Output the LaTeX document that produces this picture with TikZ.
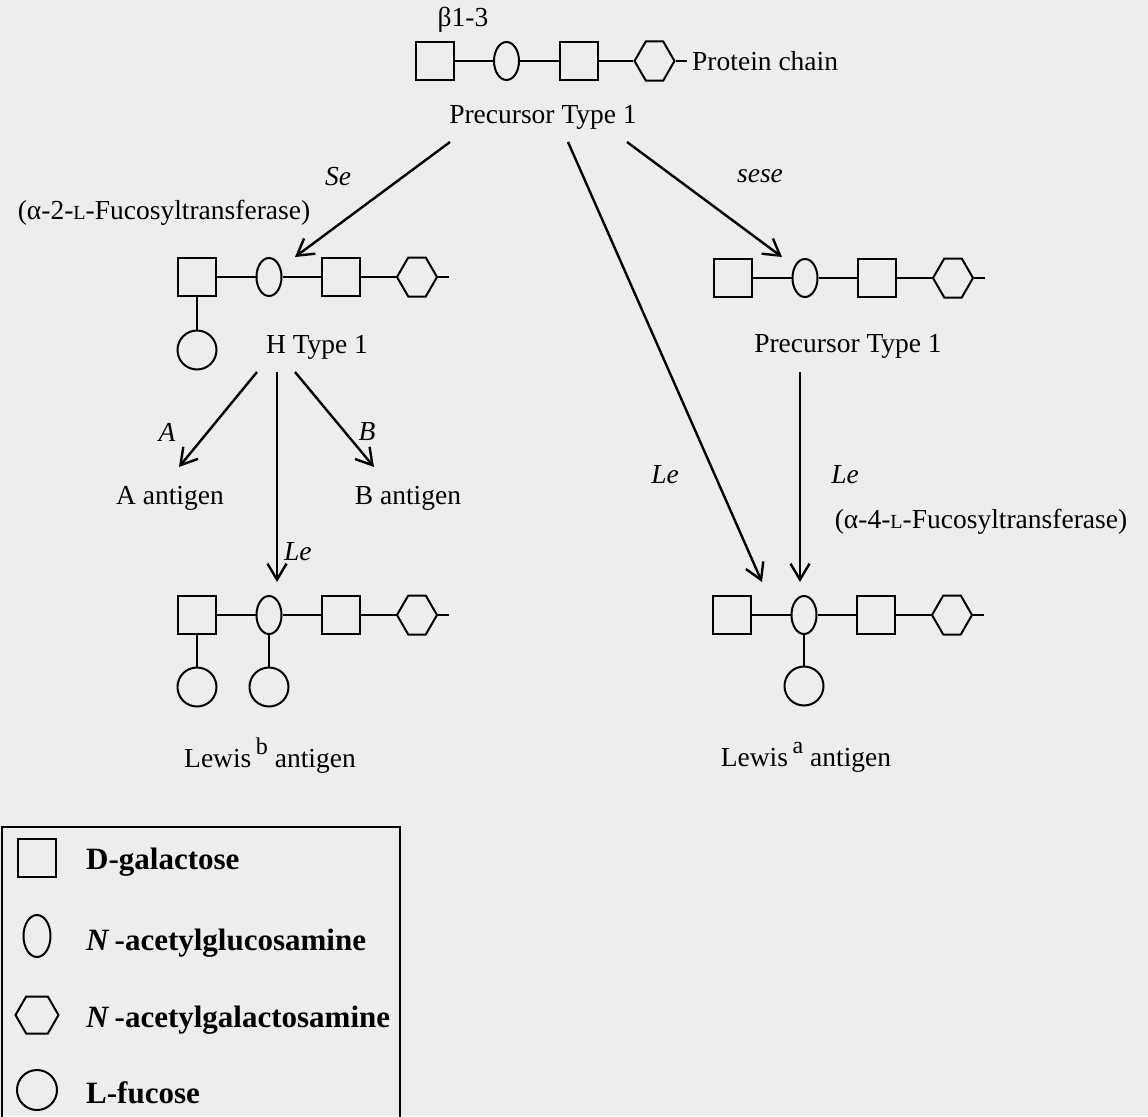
\documentclass[tikz,border=0pt]{standalone}
\usepackage{fontspec}
\setmainfont{Liberation Serif}
\usetikzlibrary{shapes.geometric,shapes.symbols,arrows.meta}
\definecolor{bg}{RGB}{237,237,237}
\tikzset{
 lw/.style={line width=2pt},
 gal/.style={draw, lw, rectangle, minimum width=38, minimum height=38, inner sep=0},
 glc/.style={draw, lw, ellipse, minimum width=25, minimum height=38, inner sep=0},
 galnac/.style={draw, lw, signal, signal to=east and west, signal pointer angle=120, minimum width=40, minimum height=39, inner sep=0},
 fuc/.style={draw, lw, circle, minimum size=39, inner sep=0},
 link/.style={lw},
 rx/.style={line width=2.4pt, -{Straight Barb[length=16pt,width=19pt,line width=2.4pt]}},
 txt/.style={font=\fontsize{27.5}{30}\selectfont, inner sep=0},
 itl/.style={font=\fontsize{27.5}{30}\selectfont\itshape, inner sep=0},
 leg/.style={font=\fontsize{31}{34}\selectfont\bfseries, inner sep=0, anchor=west},
}
\newcommand{\sugarchain}[3]{%
 \node[gal] (#1a) at (#2,#3) {};
 \node[glc] (#1b) at (#2+72,#3) {};
 \node[gal] (#1c) at (#2+144,#3) {};
 \node[galnac] (#1d) at (#2+220,#3) {};
 \coordinate (#1t) at (#2+252,#3);
 \draw[link] (#1a) -- (#1b) (#1b) -- (#1c) (#1c) -- (#1d) (#1d) -- (#1t);
}
\newcommand{\smL}{{\fontsize{20}{20}\selectfont L}}
\begin{document}
\begin{tikzpicture}[x=1pt,y=-1pt]
\fill[bg] (0,0) rectangle (1148,1116);
\useasboundingbox (0,0) rectangle (1148,1116);

% chains
\sugarchain{pt}{434.5}{61}
\sugarchain{ht}{197}{277}
\sugarchain{rp}{733}{278}
\sugarchain{lb}{197}{615}
\sugarchain{la}{732}{615}

% fucose branches
\node[fuc] (htf) at (197,350) {};
\draw[link] (hta) -- (htf);
\node[fuc] (lbf1) at (197,687) {};
\node[fuc] (lbf2) at (269,687) {};
\draw[link] (lba) -- (lbf1) (lbb) -- (lbf2);
\node[fuc] (laf) at (804,686) {};
\draw[link] (lab) -- (laf);

% texts
\node[txt] (beta) at (463,20) {β1-3};
\node[txt, anchor=west] (prot) at (692,61) {Protein chain};
\node[txt] (ptl) at (543,117) {Precursor Type 1};
\node[itl] (se) at (338,177) {Se};
\node[txt] (fut2) at (164,213) {(α-2-\smL-Fucosyltransferase)};
\node[itl] (sese) at (760,176) {sese};
\node[txt] (htl) at (317,347) {H Type 1};
\node[txt] (rpl) at (848,346) {Precursor Type 1};
\node[itl] (la) at (167,432) {A};
\node[itl] (lbB) at (367,432) {B};
\node[txt] (aag) at (170,498) {A antigen};
\node[txt] (bag) at (408,498) {B antigen};
\node[itl, anchor=west] (le1) at (284,552) {Le};
\node[itl] (le2) at (665,475) {Le};
\node[itl] (le3) at (845,475) {Le};
\node[txt] (fut3) at (981,522) {(α-4-\smL-Fucosyltransferase)};
\node[txt, anchor=base] (leb) at (270,767) {Lewis\,\raisebox{13pt}{\fontsize{24}{24}\selectfont b} antigen};
\node[txt, anchor=base] (lea) at (806,766) {Lewis\,\raisebox{13pt}{\fontsize{24}{24}\selectfont a} antigen};

% arrow end points
\coordinate (seS) at (450,142);  \coordinate (seE) at (295,257);
\coordinate (ssS) at (627,142);  \coordinate (ssE) at (782,257);
\coordinate (lgS) at (568,142);  \coordinate (lgE) at (762,582);
\coordinate (rvS) at (800,372);  \coordinate (rvE) at (800,582);
\coordinate (aS) at (257,372);   \coordinate (aE) at (179,467);
\coordinate (bS) at (295,372);   \coordinate (bE) at (374,467);
\coordinate (lvS) at (277,372);  \coordinate (lvE) at (277,582);
\draw[rx] (seS) -- (seE);
\draw[rx] (ssS) -- (ssE);
\draw[rx] (lgS) -- (lgE);
\draw[rx] (rvS) -- (rvE);
\draw[rx] (aS) -- (aE);
\draw[rx] (bS) -- (bE);
\draw[rx] (lvS) -- (lvE);

% legend
\coordinate (bx1) at (2,1117);
\coordinate (bx2) at (2,827);
\coordinate (bx3) at (400,827);
\coordinate (bx4) at (400,1117);
\draw[line width=2pt] (bx1) -- (bx2) -- (bx3) -- (bx4);
\node[gal] (kgal) at (37,858) {};
\node[glc, minimum width=27, minimum height=42] (kglc) at (37,936) {};
\node[galnac, minimum width=43, minimum height=37] (kgn) at (37,1015) {};
\node[fuc, minimum size=40] (kfuc) at (37,1090) {};
\node[leg] (tgal) at (86,862) {D-galactose};
\node[leg] (tglc) at (86,943) {\textit{N}\,-acetylglucosamine};
\node[leg] (tgn) at (86,1020) {\textit{N}\,-acetylgalactosamine};
\node[leg] (tfuc) at (86,1093) {L-fucose};
\end{tikzpicture}
\end{document}
